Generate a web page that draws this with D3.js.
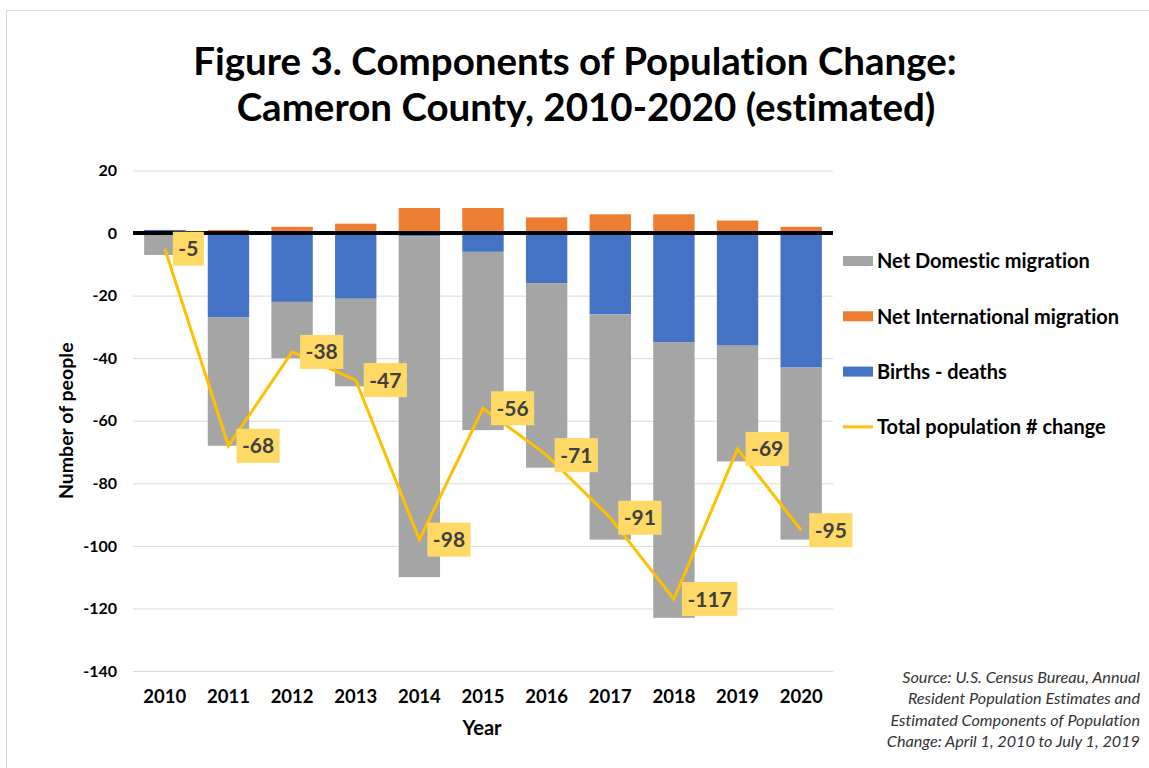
<!DOCTYPE html>
<html>
<head>
<meta charset="utf-8">
<script src="https://cdn.jsdelivr.net/npm/d3@7"></script>
<style>
  html, body { margin: 0; padding: 0; background: #fff; }
  svg { display: block; font-family: Lato, "Open Sans", sans-serif; font-variant-ligatures: none; }
</style>
</head>
<body>
<svg id="chart" width="1149" height="768"></svg>
<script>
// ---- data ----
const years = ["2010","2011","2012","2013","2014","2015","2016","2017","2018","2019","2020"];
const birthsDeaths = [1, -27, -22, -21, -1, -6, -16, -26, -35, -36, -43];
const international = [0, 1, 2, 3, 8, 8, 5, 6, 6, 4, 2];
const domestic = [-7, -41, -18, -28, -109, -57, -59, -72, -88, -37, -55];
const totalChange = [-5, -68, -38, -47, -98, -56, -71, -91, -117, -69, -95];
const yTicks = [20, 0, -20, -40, -60, -80, -100, -120, -140];
const titleLines = ["Figure 3. Components of Population Change:", "Cameron County, 2010-2020 (estimated)"];
const sourceLines = ["Source: U.S. Census Bureau, Annual", "Resident Population Estimates and", "Estimated Components of Population", "Change: April 1, 2010 to July 1, 2019"];
const legendItems = [
  {key: "domestic", label: "Net Domestic migration", type: "rect"},
  {key: "international", label: "Net International migration", type: "rect"},
  {key: "birthsDeaths", label: "Births - deaths", type: "rect"},
  {key: "total", label: "Total population # change", type: "line"}
];

const colors = {domestic: "#A5A5A5", international: "#ED7D31", birthsDeaths: "#4472C4", total: "#FFC000"};
const fmt = v => String(v); // plain hyphen-minus, as in the original

const svg = d3.select("#chart");

// chart border
svg.append("path")
  .attr("d", "M6.5,768 L6.5,10.5 L1149,10.5")
  .attr("fill", "none").attr("stroke", "#d9d9d9").attr("stroke-width", 1);

const x = d3.scaleBand().domain(years).range([133, 833]).paddingInner(0.35).paddingOuter(0.175);
const y = d3.scaleLinear().domain([-140, 20]).range([671, 170.5]);

// gridlines
const grid = svg.append("g")
  .attr("transform", "translate(133,0)")
  .call(d3.axisLeft(y).tickValues(yTicks).tickSize(-700).tickFormat(""));
grid.select(".domain").remove();
grid.selectAll("line").attr("stroke", "#d9d9d9").attr("stroke-width", 1);

// y tick labels
const yAx = svg.append("g")
  .attr("transform", "translate(121,0)")
  .call(d3.axisLeft(y).tickValues(yTicks).tickSize(0).tickPadding(4).tickFormat(fmt));
yAx.select(".domain").remove();
yAx.selectAll("text").attr("font-size", 16).attr("font-weight", "bold").attr("fill", "#000")
  .attr("font-family", "Lato, sans-serif");

// stacked bars
const rows = years.map((yr, i) => ({year: yr, birthsDeaths: birthsDeaths[i], international: international[i], domestic: domestic[i]}));
const stack = d3.stack().keys(["birthsDeaths", "international", "domestic"]).offset(d3.stackOffsetDiverging);
const series = stack(rows);
svg.append("g").selectAll("g").data(series).join("g")
  .attr("fill", d => colors[d.key])
  .selectAll("rect").data(d => d).join("rect")
  .attr("x", d => x(d.data.year))
  .attr("width", x.bandwidth())
  .attr("y", d => y(Math.max(d[0], d[1])))
  .attr("height", d => Math.abs(y(d[0]) - y(d[1])));

// zero line
svg.append("line")
  .attr("x1", 133).attr("x2", 833).attr("y1", y(0)).attr("y2", y(0))
  .attr("stroke", "#000").attr("stroke-width", 4);

// x labels
const xAx = svg.append("g")
  .attr("transform", `translate(0,${y(-140)})`)
  .call(d3.axisBottom(x).tickSize(0).tickPadding(19));
xAx.select(".domain").remove();
xAx.selectAll("text").attr("font-size", 18.5).attr("font-weight", "bold").attr("fill", "#000")
  .attr("font-family", "Lato, sans-serif");

// total line
const cx = yr => x(yr) + x.bandwidth() / 2;
svg.append("path")
  .datum(totalChange)
  .attr("fill", "none").attr("stroke", colors.total).attr("stroke-width", 3).attr("stroke-linejoin", "miter")
  .attr("d", d3.line().x((d, i) => cx(years[i])).y(d => y(d)));

// data labels
const lab = svg.append("g").selectAll("g").data(totalChange).join("g")
  .attr("transform", (d, i) => `translate(${cx(years[i]) + 8},${y(d)})`);
lab.each(function(d) {
  const g = d3.select(this);
  const t = g.append("text").text(fmt(d))
    .attr("x", 5.5).attr("dy", "0.36em")
    .attr("font-size", 21).attr("font-weight", "bold").attr("fill", "#404040");
  const w = t.node().getComputedTextLength();
  g.insert("rect", "text").attr("x", 0).attr("y", -17).attr("width", w + 11).attr("height", 34)
    .attr("fill", "#FFD966");
});

// axis titles
svg.append("text").text("Number of people")
  .attr("transform", `translate(73,${(y(20) + y(-140)) / 2}) rotate(-90)`)
  .attr("text-anchor", "middle").attr("font-size", 19.5).attr("font-weight", "bold");
svg.append("text").text("Year")
  .attr("x", 482).attr("y", 735)
  .attr("text-anchor", "middle").attr("font-size", 20).attr("font-weight", "bold");

// title
const titleCenters = [575, 586];
const titleBase = [75, 121];
titleLines.forEach((s, i) => {
  svg.append("text").text(s)
    .attr("x", titleCenters[i]).attr("y", titleBase[i])
    .attr("text-anchor", "middle").attr("font-size", 38.5).attr("font-weight", "bold").attr("fill", "#000");
});

// legend
const leg = svg.append("g").selectAll("g").data(legendItems).join("g")
  .attr("transform", (d, i) => `translate(843,${261 + i * 55.3})`);
leg.each(function(d) {
  const g = d3.select(this);
  if (d.type === "rect") {
    g.append("rect").attr("x", 0).attr("y", -5).attr("width", 30).attr("height", 10).attr("fill", colors[d.key]);
  } else {
    g.append("line").attr("x1", 0).attr("x2", 30).attr("y1", 0).attr("y2", 0)
      .attr("stroke", colors.total).attr("stroke-width", 3);
  }
  g.append("text").text(d.label).attr("x", 34).attr("dy", "0.36em")
    .attr("font-size", 20).attr("font-weight", "bold").attr("fill", "#000");
});

// source
sourceLines.forEach((s, i) => {
  svg.append("text").text(s)
    .attr("x", 1140).attr("y", 683 + i * 21.3)
    .attr("text-anchor", "end").attr("font-size", 16.2).attr("font-style", "italic").attr("fill", "#333");
});
</script>
</body>
</html>
